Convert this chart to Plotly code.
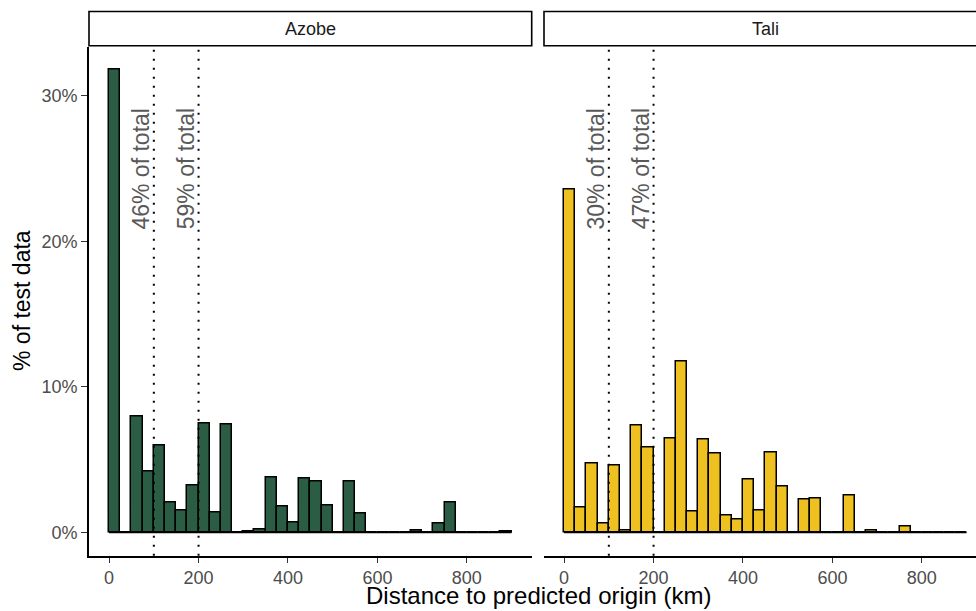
import plotly.graph_objects as go

# ---- data ----
bin_width = 25
bin_starts = list(range(0, 900, 25))
azobe_pct = [31.8, 0, 7.94, 4.19, 5.98, 2.07, 1.54, 3.22, 7.52, 1.36, 7.41, 0,
             0.07, 0.19, 3.8, 1.77, 0.65, 3.68, 3.52, 1.86, 0, 3.48, 1.27, 0,
             0, 0, 0, 0.11, 0, 0.58, 2.03, 0, 0, 0, 0, 0.08]
tali_pct = [23.58, 1.68, 4.76, 0.62, 4.6, 0.1, 7.36, 5.87, 0, 6.44, 11.78, 1.43,
            6.37, 5.41, 1.15, 0.88, 3.62, 1.52, 5.48, 3.15, 0, 2.26, 2.35, 0,
            0, 2.53, 0, 0.1, 0, 0, 0.39, 0, 0, 0, 0, 0]
panels = ["Azobe", "Tali"]
threshold_km = [100, 200]
azobe_labels = ["46% of total", "59% of total"]
tali_labels = ["30% of total", "47% of total"]
y_ticks = [0, 10, 20, 30]
x_ticks = [0, 200, 400, 600, 800]

colors = {"Azobe": "#2B5D45", "Tali": "#EEC120"}
FONT = "Liberation Sans, Arial, sans-serif"
W, H = 976, 611

centers = [s + bin_width / 2 for s in bin_starts]

fig = go.Figure()
series = {"Azobe": azobe_pct, "Tali": tali_pct}
axes = {"Azobe": ("x", "y"), "Tali": ("x2", "y2")}
for name in panels:
    xa, ya = axes[name]
    fig.add_trace(go.Scatter(x=[bin_starts[0], bin_starts[-1] + bin_width], y=[0, 0],
                             mode="lines", line=dict(color="black", width=1.5),
                             xaxis=xa, yaxis=ya, hoverinfo="skip", showlegend=False))
    fig.add_trace(go.Bar(x=centers, y=series[name], width=bin_width,
                         marker=dict(color=colors[name], line=dict(color="black", width=1.5)),
                         xaxis=xa, yaxis=ya, showlegend=False))

# panel geometry (pixels)
py_top, py_bot = 46.5, 555.7
left_dom = [89 / W, 531.7 / W]
right_dom = [544 / W, 1.0]
ydom = [(H - py_bot) / H, (H - py_top) / H]
x_left_range = [-45, 945]
x_right_range = [-45, -45 + (W - 544) / ((531.7 - 89) / 990)]

tickfont = dict(family=FONT, size=18, color="#4D4D4D")
common_x = dict(showline=True, linecolor="black", linewidth=1.6, ticks="outside",
                ticklen=5, tickwidth=1.4, tickcolor="#333333", tickvals=x_ticks,
                tickfont=tickfont, showgrid=False, zeroline=False)
fig.update_layout(
    width=W, height=H, margin=dict(l=0, r=0, t=0, b=0),
    paper_bgcolor="white", plot_bgcolor="white", bargap=0,
    xaxis=dict(domain=left_dom, range=x_left_range, anchor="y", **common_x),
    xaxis2=dict(domain=right_dom, range=x_right_range, anchor="y2", **common_x),
    yaxis=dict(domain=ydom, range=[-1.6, 33.4], anchor="x", showline=True, linecolor="black",
               linewidth=1.6, ticks="outside", ticklen=6, tickwidth=1.4, tickcolor="#333333",
               tickvals=y_ticks, ticktext=[f"{v}%" for v in y_ticks], tickfont=tickfont,
               showgrid=False, zeroline=False),
    yaxis2=dict(domain=ydom, range=[-1.6, 33.4], anchor="x2", showline=False, ticks="",
                showticklabels=False, showgrid=False, zeroline=False),
)

shapes = []
annotations = []
strip_y0 = (H - 45.7) / H
strip_y1 = (H - 11.5) / H
panel_w = (531.7 - 89) / W
for name, dom, xref, labels in [("Azobe", left_dom, "x", azobe_labels),
                                ("Tali", right_dom, "x2", tali_labels)]:
    x1 = dom[0] + panel_w
    shapes.append(dict(type="rect", xref="paper", yref="paper", x0=dom[0], x1=x1,
                       y0=strip_y0, y1=strip_y1, line=dict(color="black", width=1.6),
                       fillcolor="white", layer="above"))
    annotations.append(dict(xref="paper", yref="paper", x=dom[0] + panel_w / 2,
                            y=(strip_y0 + strip_y1) / 2, text=name, showarrow=False,
                            font=dict(family=FONT, size=18, color="#1A1A1A"),
                            xanchor="center", yanchor="middle"))
    for t, lab in zip(threshold_km, labels):
        shapes.append(dict(type="line", xref=xref, yref=xref.replace("x", "y") + " domain",
                           x0=t, x1=t, y0=0, y1=1,
                           line=dict(color="black", width=2, dash="2px,7px")))
        annotations.append(dict(xref=xref, yref=xref.replace("x", "y"), x=t, y=25,
                                text=lab, textangle=-90, showarrow=False,
                                xanchor="right", yanchor="middle", xshift=2,
                                font=dict(family=FONT, size=23, color="#595959")))

annotations.append(dict(xref="paper", yref="paper", x=22 / W, y=(H - 301) / H,
                        text="% of test data", textangle=-90, showarrow=False,
                        xanchor="center", yanchor="middle",
                        font=dict(family=FONT, size=23, color="black")))
annotations.append(dict(xref="paper", yref="paper", x=538 / W, y=0,
                        text="Distance to predicted origin (km)", showarrow=False,
                        xanchor="center", yanchor="bottom",
                        font=dict(family=FONT, size=24, color="black")))
fig.update_layout(shapes=shapes, annotations=annotations)

fig.write_html("out.html")
